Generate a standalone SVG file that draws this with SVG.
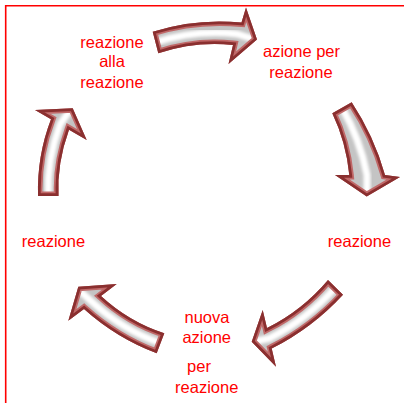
<svg xmlns="http://www.w3.org/2000/svg" xmlns:xlink="http://www.w3.org/1999/xlink" width="404" height="403" viewBox="0 0 404 403">
<style>
.lbl{font-family:"Liberation Sans",Arial,sans-serif;font-size:16.5px;fill:#ff0000;text-anchor:middle}
.body{fill:#c4c4c4}
.hl{fill:none;stroke:#ffffff;stroke-width:7;stroke-linecap:round;filter:url(#blur)}
.rimA{fill:none;stroke:#c06868;stroke-width:9;stroke-linejoin:miter}
.rimB{fill:none;stroke:#8a2f2f;stroke-width:5.5;stroke-linejoin:miter}
</style>
<defs>
<filter id="blur" x="-20%" y="-20%" width="140%" height="140%"><feGaussianBlur stdDeviation="1.6"/></filter>
<path id="a1" d="M152.7,31.7 Q196,18 241.5,22.5 L246,7.5 L257,39.5 L228.5,64 L233,45 Q195,41 158.3,53.3 Z"/>
<path id="a2" d="M332.3,113.3 L351.7,102.3 Q374,136 385,175 L400,177 L366.7,196.5 L335,175 L349.3,175 Q346,142 332.3,113.3 Z"/>
<path id="a3" d="M38,196 Q36.9,155.8 51,119.3 L35,110 L72.7,108.3 L86.7,140 L69,129.7 Q56.7,163.9 58.5,196 Z"/>
<path id="a4" d="M164.3,333.3 Q128.6,321.6 101,296 L116.7,284 L78.3,286.7 L68.3,320.7 L84,309 Q116.3,338 156.7,353.3 Z"/>
<path id="a5" d="M328,280 Q302.5,310.3 267,328.1 L262.7,310 L251.7,341.7 L276,366.7 L271.7,348.6 Q312.3,328 343,294.7 Z"/>
<clipPath id="c1"><use xlink:href="#a1"/></clipPath>
<clipPath id="c2"><use xlink:href="#a2"/></clipPath>
<clipPath id="c3"><use xlink:href="#a3"/></clipPath>
<clipPath id="c4"><use xlink:href="#a4"/></clipPath>
<clipPath id="c5"><use xlink:href="#a5"/></clipPath>
</defs>
<rect width="404" height="403" fill="#ffffff"/>
<path d="M5.7,403 V5.7 H404" fill="none" stroke="#ff0000" stroke-width="1.6"/>
<g id="connectors">
<g id="arrow1" clip-path="url(#c1)">
<use xlink:href="#a1" class="body"/>
<path class="hl" d="M155.5,42.5 Q195.5,29.5 237,34 L250,38"/>
<use xlink:href="#a1" class="rimA"/>
<use xlink:href="#a1" class="rimB"/>
</g>
<g id="arrow2" clip-path="url(#c2)">
<use xlink:href="#a2" class="body"/>
<path class="hl" d="M342,107.8 Q360,139 367,175 L367,190"/>
<use xlink:href="#a2" class="rimA"/>
<use xlink:href="#a2" class="rimB"/>
</g>
<g id="arrow3" clip-path="url(#c3)">
<use xlink:href="#a3" class="body"/>
<path class="hl" d="M48.2,196 Q46.8,159.9 60,124.5 L68,113"/>
<use xlink:href="#a3" class="rimA"/>
<use xlink:href="#a3" class="rimB"/>
</g>
<g id="arrow4" clip-path="url(#c4)">
<use xlink:href="#a4" class="body"/>
<path class="hl" d="M160.5,343.3 Q122.5,329.8 92.5,302.4 L82,293"/>
<use xlink:href="#a4" class="rimA"/>
<use xlink:href="#a4" class="rimB"/>
</g>
<g id="arrow5" clip-path="url(#c5)">
<use xlink:href="#a5" class="body"/>
<path class="hl" d="M335.5,287.4 Q307.4,319.2 269.4,338.4 L257,341"/>
<use xlink:href="#a5" class="rimA"/>
<use xlink:href="#a5" class="rimB"/>
</g>
</g>
<g id="node-reazione-alla-reazione">
<text class="lbl" x="112" y="47.5">reazione</text>
<text class="lbl" x="112" y="67">alla</text>
<text class="lbl" x="112" y="87.5">reazione</text>
</g>
<g id="node-azione-per-reazione">
<text class="lbl" x="301.5" y="57.3">azione per</text>
<text class="lbl" x="301" y="77.5">reazione</text>
</g>
<g id="node-reazione-right">
<text class="lbl" x="359.5" y="247.3">reazione</text>
</g>
<g id="node-nuova-azione">
<text class="lbl" x="207" y="323.3">nuova</text>
<text class="lbl" x="206.7" y="343.3">azione</text>
<text class="lbl" x="199" y="372">per</text>
<text class="lbl" x="206.7" y="392.7">reazione</text>
</g>
<g id="node-reazione-left">
<text class="lbl" x="53.5" y="247.3">reazione</text>
</g>
</svg>
